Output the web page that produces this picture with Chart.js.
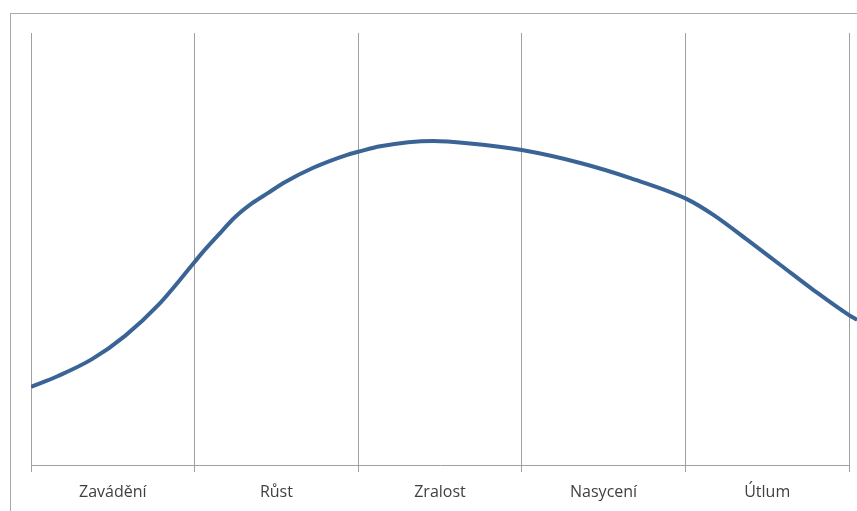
<!DOCTYPE html>
<html lang="cs">
<head>
<meta charset="utf-8">
<title>Životní cyklus výrobku</title>
<script src="https://cdn.jsdelivr.net/npm/chart.js@4/dist/chart.umd.min.js"></script>
<style>
  html, body { margin: 0; padding: 0; width: 857px; height: 511px; overflow: hidden; background: #fff; }
  #frame { position: absolute; left: 10px; top: 13px; width: 1200px; height: 800px; border: 1px solid #a9a9a9; }
  #chart { position: absolute; left: 0; top: 0; }
</style>
</head>
<body>
<div id="frame"></div>
<canvas id="chart" width="880" height="511"></canvas>
<script>
// Product life-cycle phases shown along the horizontal axis
const phases = ['Zavádění', 'Růst', 'Zralost', 'Nasycení', 'Útlum'];

// Sales curve: position along the phases (0 = start of first phase, 5 = end of last)
const curveX = [0, 0.165, 0.373, 0.575, 0.777, 1.0, 1.046, 1.144, 1.248, 1.352, 1.45, 1.554, 1.725, 1.933, 2.0, 2.135, 2.459, 2.667, 3.0, 3.358, 3.664, 4.006, 4.171, 4.379, 4.581, 4.783, 5.0, 5.05];
// Sales level (relative units, 0–100)
const curveY = [18.1, 20.6, 24.5, 29.9, 37.0, 47.0, 49.1, 53.2, 57.4, 60.6, 63.0, 65.5, 68.8, 71.8, 72.5, 73.8, 75.0, 74.5, 72.9, 69.9, 66.4, 61.6, 57.9, 52.1, 46.3, 40.5, 34.7, 33.6];

const points = curveX.map((x, i) => ({ x: x, y: curveY[i] }));

new Chart(document.getElementById('chart'), {
  type: 'line',
  data: {
    labels: phases,
    datasets: [{
      data: points,
      xAxisID: 'x',
      yAxisID: 'y',
      borderColor: '#3b6496',
      borderWidth: 4,
      pointRadius: 0,
      fill: false,
      cubicInterpolationMode: 'monotone',
      clip: { left: 0, top: 0, right: 40, bottom: 0 }
    }]
  },
  options: {
    responsive: false,
    animation: false,
    events: [],
    layout: { padding: { left: 31, right: 31, top: 33, bottom: 0 } },
    plugins: { legend: { display: false }, tooltip: { enabled: false } },
    scales: {
      phase: {
        type: 'category',
        position: 'bottom',
        labels: phases,
        offset: true,
        grid: { offset: true, color: '#a0a0a0', lineWidth: 1, tickLength: 7, drawTicks: true },
        border: { display: true, color: '#a0a0a0', width: 1 },
        ticks: { color: '#404040', padding: 11, font: { family: 'Open Sans', size: 16 }, maxRotation: 0 },
        afterFit: (s) => { s.height = 46; }
      },
      x: {
        type: 'linear',
        display: false,
        bounds: 'data',
        // range fixed to the five phases; the tail past the last phase is kept in the data
        afterDataLimits: (s) => { s.min = 0; s.max = 5; }
      },
      y: {
        type: 'linear',
        display: false,
        min: 0,
        max: 100
      }
    }
  }
});
</script>
</body>
</html>
